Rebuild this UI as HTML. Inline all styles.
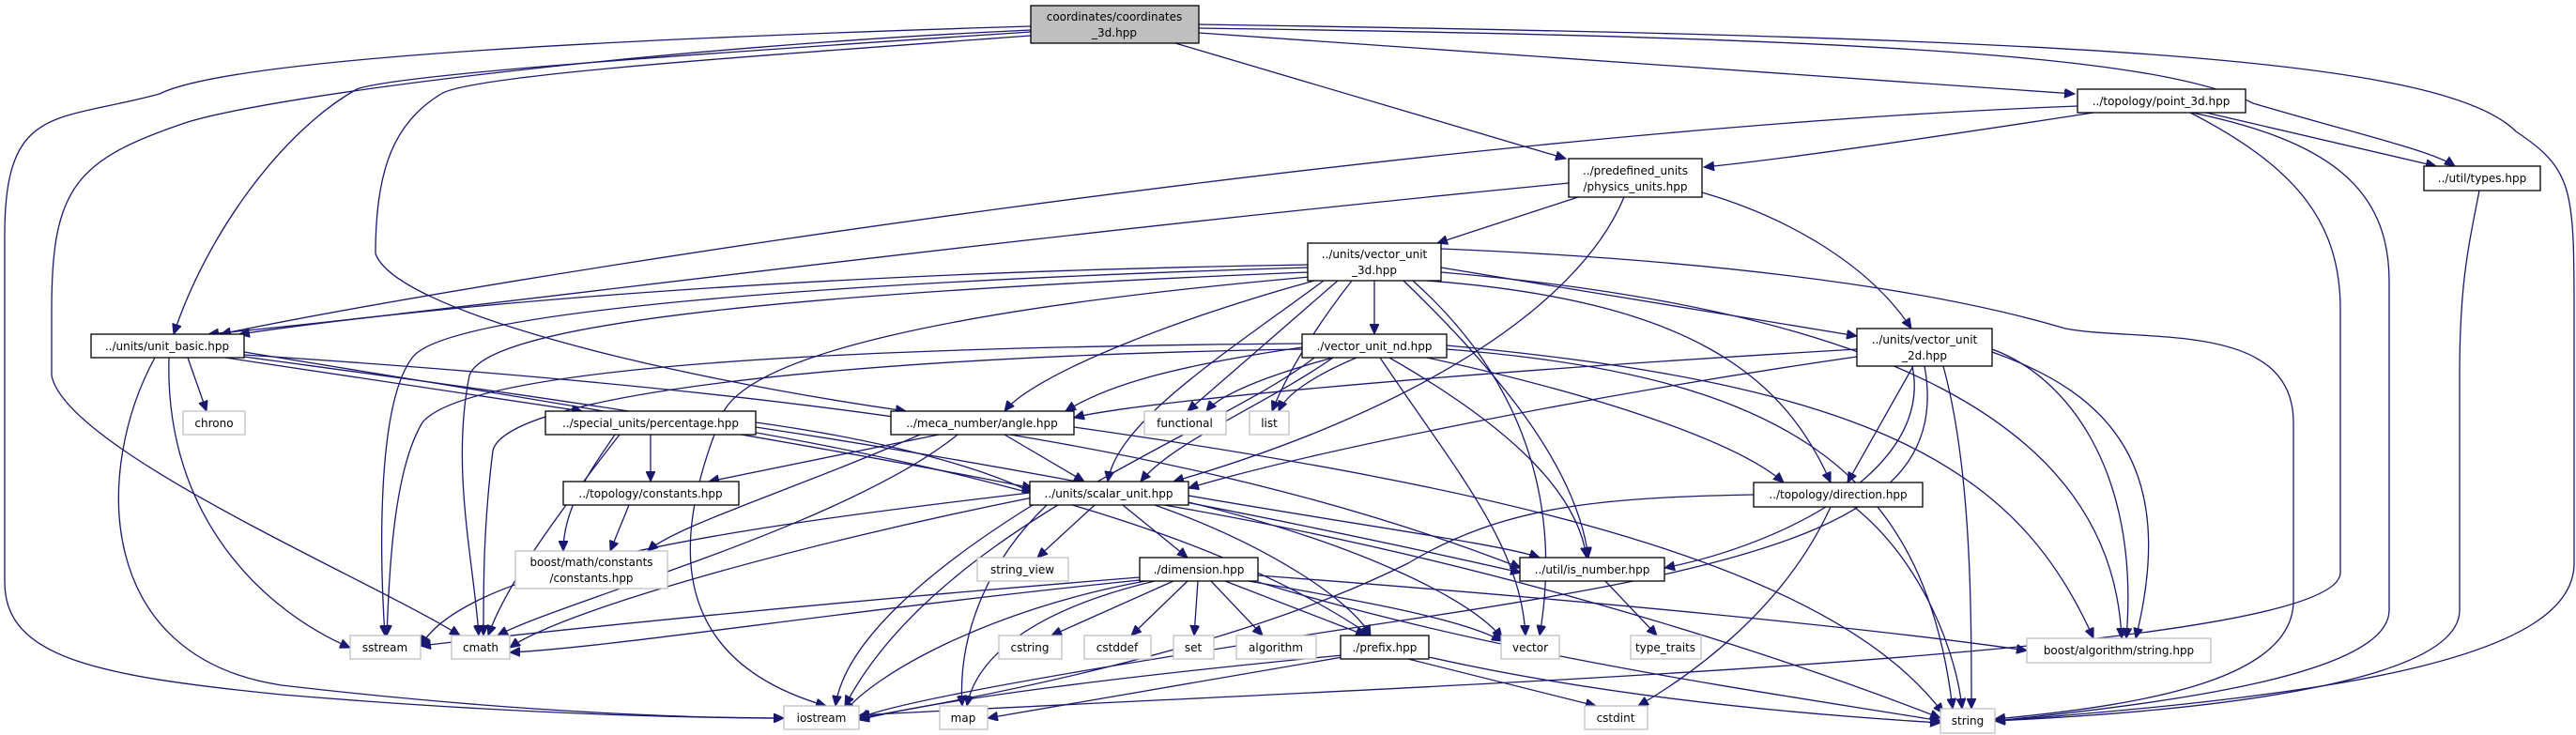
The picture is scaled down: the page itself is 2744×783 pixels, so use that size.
<!DOCTYPE html>
<html><head><meta charset="utf-8">
<style>
html,body{margin:0;padding:0;background:#fff;}
svg{display:block;}
text{font-family:"DejaVu Sans","Liberation Sans",sans-serif;font-size:12px;fill:#000;}
.n{fill:#fff;stroke:#000;stroke-width:1.3;}
.s{fill:#fff;stroke:#bfbfbf;stroke-width:1.3;}
.e{fill:none;stroke:#191970;stroke-width:1.3;}
</style></head>
<body>
<svg id="g" width="2744" height="783" viewBox="0 0 2744 783" xmlns="http://www.w3.org/2000/svg">
<defs>
<marker id="a" markerWidth="12" markerHeight="10" refX="11" refY="5" orient="auto" markerUnits="userSpaceOnUse">
<path d="M0,0 L11,5 L0,10 z" fill="#191970" stroke="#191970"/>
</marker>
</defs>
<g id="edges"></g>
<g id="nodes">
<rect x="1098" y="6" width="179" height="40" fill="#bfbfbf" stroke="#000" stroke-width="1.3"/>
<text x="1187" y="22" text-anchor="middle">coordinates/coordinates</text>
<text x="1187" y="39" text-anchor="middle">_3d.hpp</text>

<rect class="n" x="2213" y="95" width="179" height="25"/><text x="2302" y="112" text-anchor="middle">../topology/point_3d.hpp</text>
<rect class="n" x="1671" y="169" width="142" height="41"/><text x="1742" y="186" text-anchor="middle">../predefined_units</text><text x="1742" y="203" text-anchor="middle">/physics_units.hpp</text>
<rect class="n" x="2582" y="177" width="124" height="26"/><text x="2644" y="194" text-anchor="middle">../util/types.hpp</text>
<rect class="n" x="1393" y="259" width="142" height="40"/><text x="1464" y="275" text-anchor="middle">../units/vector_unit</text><text x="1464" y="292" text-anchor="middle">_3d.hpp</text>
<rect class="n" x="97" y="356" width="163" height="25"/><text x="178" y="373" text-anchor="middle">../units/unit_basic.hpp</text>
<rect class="n" x="1387" y="356" width="154" height="25"/><text x="1464" y="373" text-anchor="middle">./vector_unit_nd.hpp</text>
<rect class="n" x="1978" y="350" width="144" height="40"/><text x="2050" y="366" text-anchor="middle">../units/vector_unit</text><text x="2050" y="383" text-anchor="middle">_2d.hpp</text>
<rect class="s" x="195" y="438" width="66" height="25"/><text x="228" y="455" text-anchor="middle">chrono</text>
<rect class="n" x="581" y="438" width="224" height="25"/><text x="693" y="455" text-anchor="middle">../special_units/percentage.hpp</text>
<rect class="n" x="949" y="438" width="195" height="25"/><text x="1046" y="455" text-anchor="middle">../meca_number/angle.hpp</text>
<rect class="s" x="1219" y="438" width="87" height="25"/><text x="1262" y="455" text-anchor="middle">functional</text>
<rect class="s" x="1331" y="438" width="42" height="25"/><text x="1352" y="455" text-anchor="middle">list</text>
<rect class="n" x="600" y="513" width="187" height="25"/><text x="693" y="530" text-anchor="middle">../topology/constants.hpp</text>
<rect class="n" x="1097" y="513" width="169" height="25"/><text x="1181" y="530" text-anchor="middle">../units/scalar_unit.hpp</text>
<rect class="n" x="1868" y="514" width="180" height="26"/><text x="1958" y="531" text-anchor="middle">../topology/direction.hpp</text>
<rect class="s" x="549" y="587" width="162" height="40"/><text x="630" y="603" text-anchor="middle">boost/math/constants</text><text x="630" y="620" text-anchor="middle">/constants.hpp</text>
<rect class="s" x="1041" y="594" width="97" height="25"/><text x="1089" y="611" text-anchor="middle">string_view</text>
<rect class="n" x="1214" y="594" width="126" height="25"/><text x="1277" y="611" text-anchor="middle">./dimension.hpp</text>
<rect class="n" x="1619" y="594" width="154" height="25"/><text x="1696" y="611" text-anchor="middle">../util/is_number.hpp</text>
<rect class="s" x="373" y="677" width="75" height="25"/><text x="410" y="694" text-anchor="middle">sstream</text>
<rect class="s" x="481" y="677" width="62" height="25"/><text x="512" y="694" text-anchor="middle">cmath</text>
<rect class="s" x="1064" y="677" width="67" height="25"/><text x="1097" y="694" text-anchor="middle">cstring</text>
<rect class="s" x="1155" y="677" width="71" height="25"/><text x="1190" y="694" text-anchor="middle">cstddef</text>
<rect class="s" x="1250" y="677" width="43" height="25"/><text x="1271" y="694" text-anchor="middle">set</text>
<rect class="s" x="1317" y="677" width="85" height="25"/><text x="1359" y="694" text-anchor="middle">algorithm</text>
<rect class="n" x="1428" y="677" width="94" height="25"/><text x="1475" y="694" text-anchor="middle">./prefix.hpp</text>
<rect class="s" x="1599" y="677" width="62" height="25"/><text x="1630" y="694" text-anchor="middle">vector</text>
<rect class="s" x="1737" y="677" width="75" height="25"/><text x="1774" y="694" text-anchor="middle">type_traits</text>
<rect class="s" x="2159" y="680" width="196" height="26"/><text x="2257" y="697" text-anchor="middle">boost/algorithm/string.hpp</text>
<rect class="s" x="835" y="752" width="80" height="25"/><text x="875" y="769" text-anchor="middle">iostream</text>
<rect class="s" x="1001" y="752" width="51" height="25"/><text x="1026" y="769" text-anchor="middle">map</text>
<rect class="s" x="1688" y="752" width="67" height="25"/><text x="1721" y="769" text-anchor="middle">cstdint</text>
<rect class="s" x="2067" y="755" width="58" height="26"/><text x="2096" y="772" text-anchor="middle">string</text>
</g>
</svg>
<script>
(function(){
var E=[
"M1098,28 C700,40 250,60 170,100 C60,130 5,110 5,250 L5,620 C5,700 100,720 300,740 C600,765 800,765 835,765",
"M1098,32 C700,50 300,100 200,130 C80,170 55,200 55,330 L55,400 C70,480 400,620 490,677",
"M1098,34 C700,60 420,80 380,95 C300,140 220,250 185,356",
"M1098,38 C800,60 500,80 470,100 C420,130 400,180 400,270 C420,330 700,400 965,438",
"M1252,46 L1668,169",
"M1277,35 L2210,100",
"M1277,30 C2000,40 2300,60 2400,110 C2500,140 2590,160 2615,177",
"M1277,26 C2200,40 2600,60 2680,140 C2740,180 2742,200 2742,330 L2742,600 C2742,700 2500,740 2125,768",
"M2213,113 C1500,140 500,300 235,356",
"M2230,120 C2100,140 1900,170 1815,178",
"M2350,120 L2595,177",
"M2335,120 C2480,150 2545,200 2545,300 L2545,650 C2545,720 2300,750 2125,768",
"M2333,120 C2450,180 2493,240 2493,330 L2493,610 C2493,700 1500,730 915,762",
"M2641,203 C2630,260 2620,300 2620,400 L2620,650 C2620,720 2400,755 2125,768",
"M1671,195 C1000,260 500,330 222,356",
"M1681,210 L1531,259",
"M1730,210 C1680,330 1500,440 1250,513",
"M1813,205 C1900,230 1990,280 2036,350",
"M1393,282 C900,290 500,320 255,356",
"M1400,299 C1250,340 1100,400 1070,438",
"M1410,299 C1300,380 1190,450 1180,513",
"M1393,285 C900,300 480,330 440,380 C400,430 405,600 410,677",
"M1393,290 C900,310 520,340 500,400 C480,500 505,600 510,677",
"M1395,295 C1000,330 800,380 770,440 C720,560 700,700 880,752",
"M1425,299 L1265,438",
"M1440,299 C1400,350 1370,400 1355,438",
"M1464,299 L1464,356",
"M1495,299 C1600,400 1680,500 1692,594",
"M1520,299 C1800,320 1900,400 1950,514",
"M1535,285 L1978,358",
"M1505,299 C1640,420 1660,560 1640,677",
"M1535,265 C1900,280 2100,320 2200,350 C2280,365 2443,340 2443,450 L2443,640 C2443,720 2300,750 2125,766",
"M1535,290 C2000,330 2250,450 2260,680",
"M1387,370 C1250,390 1180,410 1135,438",
"M1420,381 C1350,430 1250,470 1215,513",
"M1387,366 C900,370 500,390 450,450 C420,500 415,600 412,677",
"M1387,372 C900,380 540,420 525,480 C515,560 515,620 515,677",
"M1400,381 C1300,460 1000,560 900,752",
"M1420,381 C1350,400 1300,420 1285,438",
"M1445,381 C1400,400 1370,420 1362,438",
"M1470,381 C1550,500 1620,580 1625,677",
"M1480,381 C1600,450 1680,520 1690,594",
"M1520,381 C1700,420 1850,470 1900,514",
"M1541,372 C1900,400 2050,500 2080,755",
"M1541,368 C2000,410 2150,500 2230,680",
"M1978,372 C1500,400 1200,430 1144,445",
"M1978,380 C1700,420 1400,480 1266,520",
"M2037,390 C2060,500 1900,580 1773,605",
"M2038,390 L1968,514",
"M2050,390 C2080,550 1900,600 1500,660 C1100,720 950,750 915,765",
"M2070,390 C2100,500 2100,650 2100,755",
"M2122,372 C2200,400 2280,500 2265,680",
"M2122,375 C2250,420 2320,500 2275,680",
"M200,381 L220,438",
"M180,381 C175,550 280,650 373,690",
"M165,381 C100,500 100,700 300,730 C600,765 800,765 835,765",
"M240,381 L620,438",
"M260,375 C600,430 900,480 1100,520",
"M260,378 C900,420 1300,480 1620,605",
"M260,380 C700,440 1200,500 1460,677",
"M693,463 L693,513",
"M655,463 C630,500 600,540 600,587",
"M805,450 C950,470 1050,500 1100,525",
"M660,463 C600,540 540,620 520,677",
"M805,455 C1100,500 1400,560 1620,610",
"M1000,463 L755,513",
"M1070,463 L1155,513",
"M980,463 C850,520 720,560 690,587",
"M1020,463 C900,560 600,640 530,677",
"M1144,455 C1600,520 1950,600 2070,760",
"M670,538 L650,587",
"M1166,538 L1105,594",
"M1196,538 L1265,594",
"M1266,528 C1450,560 1600,580 1640,594",
"M1115,538 C1050,600 1020,680 1025,752",
"M1100,538 C1000,600 900,680 890,752",
"M1097,525 C800,560 500,600 448,688",
"M1100,530 C850,580 600,650 543,690",
"M1266,535 C1450,580 1570,640 1600,680",
"M1230,538 C1350,580 1440,640 1460,677",
"M1240,538 C1600,600 1900,700 2067,765",
"M1250,619 L1120,677",
"M1265,619 L1205,677",
"M1276,619 L1272,677",
"M1290,619 L1345,677",
"M1305,619 L1455,677",
"M1330,619 C1450,640 1560,660 1600,683",
"M1230,619 C1100,650 1040,700 1030,752",
"M1220,619 C1050,650 930,720 900,758",
"M1214,615 C900,640 600,670 448,688",
"M1214,618 C900,650 650,690 543,695",
"M1340,620 C1600,700 1900,740 2067,768",
"M1340,613 C1700,640 2000,670 2159,693",
"M1430,700 L1052,765",
"M1430,698 C1200,720 1000,745 915,767",
"M1500,702 L1700,752",
"M1522,700 C1700,740 1900,760 2067,770",
"M1710,619 L1765,677",
"M1868,527 C1700,530 1600,540 1500,600 C1300,700 1000,750 915,765",
"M1950,540 C1900,650 1800,720 1745,752",
"M1975,540 C2050,600 2085,700 2090,755"
];
var g=document.getElementById('edges'),ns='http://www.w3.org/2000/svg';
E.forEach(function(d){var p=document.createElementNS(ns,'path');p.setAttribute('d',d);p.setAttribute('class','e');p.setAttribute('marker-end','url(#a)');g.appendChild(p);});
})();
</script>
</body></html>
